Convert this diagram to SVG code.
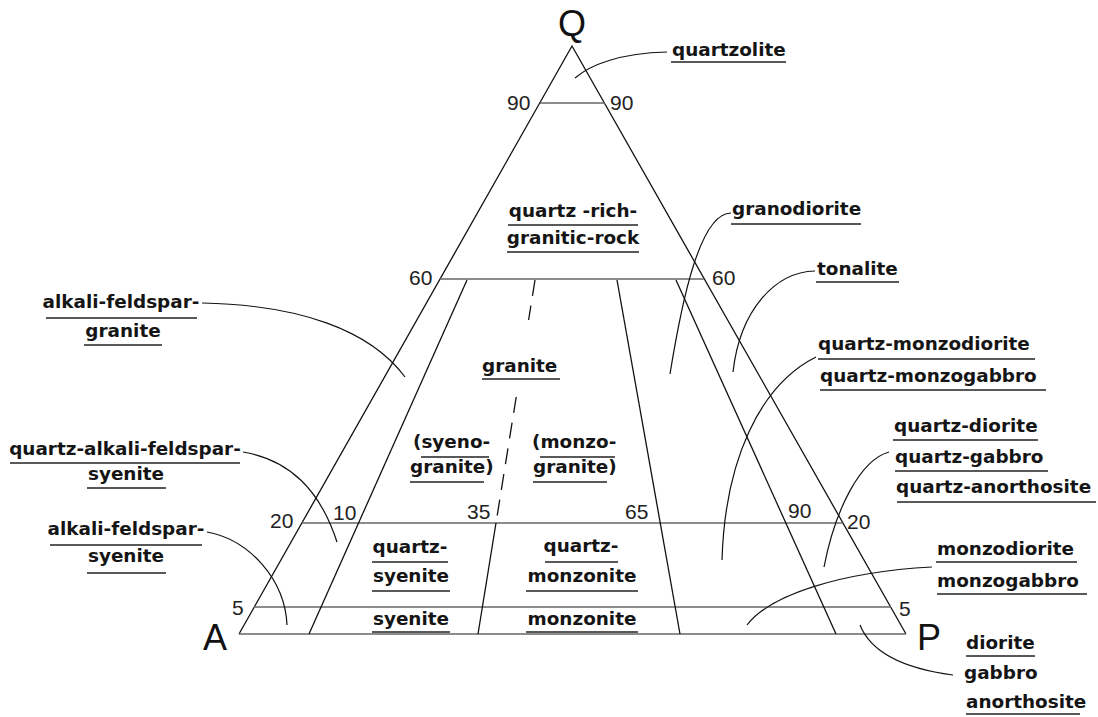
<svg xmlns="http://www.w3.org/2000/svg" width="1098" height="717" viewBox="0 0 1098 717">
<style>
.edge{stroke:#111;stroke-width:1.3;fill:none}
.hl{stroke:#666;stroke-width:1.6;fill:none}
.fl{stroke:#111;stroke-width:1.3;fill:none}
.dash{stroke:#111;stroke-width:1.3;fill:none;stroke-dasharray:16 10}
.ld{stroke:#111;stroke-width:1.2;fill:none}
.lb{font-family:"DejaVu Sans",Verdana,sans-serif;font-weight:bold;font-size:18.4px;fill:#151515}
.ul{stroke:#222;stroke-width:1.6}
.num{font-family:"Liberation Sans",Arial,sans-serif;font-size:21px;fill:#222}
.vx{font-family:"Liberation Sans",Arial,sans-serif;font-size:36px;fill:#111}
</style>
<rect width="1098" height="717" fill="#fff"/>
<g id="triangle">
<path class="edge" d="M239,634 L572,46 L906,634"/>
<line class="hl" x1="239" y1="634" x2="906" y2="634"/>
<line class="hl" x1="540" y1="103" x2="605" y2="103"/>
<line class="hl" x1="440" y1="279" x2="704" y2="279"/>
<line class="hl" x1="302" y1="523" x2="843" y2="523"/>
<line class="hl" x1="254" y1="607" x2="891" y2="607"/>
<line class="fl" x1="467" y1="280" x2="309" y2="634"/>
<line class="dash" x1="535" y1="280" x2="528.6" y2="320"/>
<line class="dash" x1="516.2" y1="397" x2="496" y2="523"/>
<line class="fl" x1="496" y1="523" x2="478" y2="634"/>
<line class="fl" x1="617" y1="280" x2="680" y2="634"/>
<line class="fl" x1="676" y1="280" x2="836" y2="634"/>
</g>
<g id="vertices">
<text class="vx" x="572" y="36" text-anchor="middle" font-size="34">Q</text>
<text class="vx" x="203" y="650">A</text>
<text class="vx" x="917" y="650">P</text>
</g>
<g id="ticks">
<text class="num" x="507" y="110">90</text>
<text class="num" x="610" y="110">90</text>
<text class="num" x="409" y="285">60</text>
<text class="num" x="712" y="285">60</text>
<text class="num" x="270" y="528">20</text>
<text class="num" x="333" y="520">10</text>
<text class="num" x="467" y="519">35</text>
<text class="num" x="625" y="519">65</text>
<text class="num" x="788" y="518">90</text>
<text class="num" x="847" y="529">20</text>
<text class="num" x="232" y="615">5</text>
<text class="num" x="899" y="616">5</text>
</g>
<g id="connectors">
<path class="ld" d="M667,52 C620,53 590,65 575,78"/>
<path class="ld" d="M731,213 C700,213 682,300 670,374"/>
<path class="ld" d="M815,271 C775,272 740,310 733,372"/>
<path class="ld" d="M816,357 C760,385 725,460 722,560"/>
<path class="ld" d="M889,452 C860,460 835,510 824,567"/>
<path class="ld" d="M932,567 C840,572 770,595 747,625"/>
<path class="ld" d="M953,675 C900,668 870,650 860,625"/>
<path class="ld" d="M202,303 C300,305 370,330 405,377"/>
<path class="ld" d="M243,452 C290,460 320,490 337,542"/>
<path class="ld" d="M207,532 C250,540 285,580 287,625"/>
</g>
<g id="quartzolite">
<text class="lb" x="672" y="56">quartzolite</text>
<line class="ul" x1="671" y1="62" x2="786" y2="62"/>
</g>
<g id="quartz-rich-granitic-rock">
<text class="lb" x="573" y="217" text-anchor="middle">quartz -rich-</text>
<line class="ul" x1="508" y1="225" x2="638" y2="225"/>
<text class="lb" x="573" y="244" text-anchor="middle">granitic-rock</text>
<line class="ul" x1="507" y1="252" x2="639" y2="252"/>
</g>
<g id="granodiorite">
<text class="lb" x="732" y="215">granodiorite</text>
<line class="ul" x1="731" y1="224" x2="861" y2="224"/>
</g>
<g id="tonalite">
<text class="lb" x="817" y="275">tonalite</text>
<line class="ul" x1="816" y1="282" x2="899" y2="282"/>
</g>
<g id="quartz-monzodiorite">
<text class="lb" x="818" y="350">quartz-monzodiorite</text>
<line class="ul" x1="818" y1="359" x2="1035" y2="359"/>
<text class="lb" x="820" y="382">quartz-monzogabbro</text>
<line class="ul" x1="820" y1="390" x2="1046" y2="390"/>
</g>
<g id="quartz-diorite">
<text class="lb" x="894" y="432">quartz-diorite</text>
<line class="ul" x1="893" y1="440" x2="1038" y2="440"/>
<text class="lb" x="895" y="463">quartz-gabbro</text>
<line class="ul" x1="895" y1="471" x2="1048" y2="471"/>
<text class="lb" x="896" y="493">quartz-anorthosite</text>
<line class="ul" x1="897" y1="502" x2="1096" y2="502"/>
</g>
<g id="monzodiorite">
<text class="lb" x="937" y="555">monzodiorite</text>
<line class="ul" x1="936" y1="562" x2="1077" y2="562"/>
<text class="lb" x="937" y="587">monzogabbro</text>
<line class="ul" x1="937" y1="594" x2="1087" y2="594"/>
</g>
<g id="diorite">
<text class="lb" x="966" y="649">diorite</text>
<line class="ul" x1="966" y1="656" x2="1035" y2="656"/>
<text class="lb" x="964" y="679">gabbro</text>
<text class="lb" x="966" y="708">anorthosite</text>
<line class="ul" x1="966" y1="714" x2="1080" y2="714"/>
</g>
<g id="alkali-feldspar-granite">
<text class="lb" x="121" y="308" text-anchor="middle">alkali-feldspar-</text>
<line class="ul" x1="46" y1="318" x2="197" y2="318"/>
<text class="lb" x="123" y="337" text-anchor="middle">granite</text>
<line class="ul" x1="84" y1="345" x2="162" y2="345"/>
</g>
<g id="quartz-alkali-feldspar-syenite">
<text class="lb" x="125" y="455" text-anchor="middle">quartz-alkali-feldspar-</text>
<line class="ul" x1="10" y1="463" x2="240" y2="463"/>
<text class="lb" x="126" y="480" text-anchor="middle">syenite</text>
<line class="ul" x1="87" y1="488" x2="166" y2="488"/>
</g>
<g id="alkali-feldspar-syenite">
<text class="lb" x="126" y="535" text-anchor="middle">alkali-feldspar-</text>
<line class="ul" x1="50" y1="545" x2="202" y2="545"/>
<text class="lb" x="126" y="562" text-anchor="middle">syenite</text>
<line class="ul" x1="87" y1="573" x2="166" y2="573"/>
</g>
<g id="granite">
<text class="lb" x="482" y="372">granite</text>
<line class="ul" x1="482" y1="379" x2="560" y2="379"/>
</g>
<g id="syenogranite">
<text class="lb" x="413" y="448">(syeno-</text>
<line class="ul" x1="421" y1="457" x2="489" y2="457"/>
<text class="lb" x="410" y="473">granite)</text>
<line class="ul" x1="410" y1="482" x2="484" y2="482"/>
</g>
<g id="monzogranite">
<text class="lb" x="532" y="448">(monzo-</text>
<line class="ul" x1="540" y1="457" x2="615" y2="457"/>
<text class="lb" x="533" y="473">granite)</text>
<line class="ul" x1="533" y1="482" x2="607" y2="482"/>
</g>
<g id="quartz-syenite">
<text class="lb" x="410" y="553" text-anchor="middle">quartz-</text>
<line class="ul" x1="372" y1="562" x2="448" y2="562"/>
<text class="lb" x="411" y="582" text-anchor="middle">syenite</text>
<line class="ul" x1="372" y1="591" x2="450" y2="591"/>
</g>
<g id="syenite">
<text class="lb" x="411" y="625" text-anchor="middle">syenite</text>
<line class="ul" x1="372" y1="632" x2="450" y2="632"/>
</g>
<g id="quartz-monzonite">
<text class="lb" x="581" y="552" text-anchor="middle">quartz-</text>
<line class="ul" x1="545" y1="562" x2="618" y2="562"/>
<text class="lb" x="582" y="582" text-anchor="middle">monzonite</text>
<line class="ul" x1="526" y1="591" x2="638" y2="591"/>
</g>
<g id="monzonite">
<text class="lb" x="582" y="625" text-anchor="middle">monzonite</text>
<line class="ul" x1="526" y1="632" x2="638" y2="632"/>
</g>
</svg>
